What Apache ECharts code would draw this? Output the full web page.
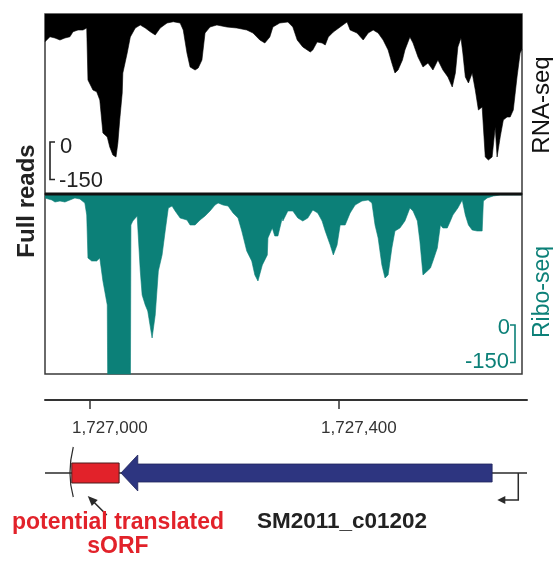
<!DOCTYPE html>
<html><head><meta charset="utf-8">
<script src="https://cdn.jsdelivr.net/npm/echarts@6/dist/echarts.min.js"></script>
<style>html,body{margin:0;padding:0;background:#fff}#c{width:553px;height:561px}</style>
</head><body><div id="c"></div>
<script>
// ---- data (genomic positions in bp, read depth) ----
const rnaPos = [1726928,1726931,1726936,1726944,1726952,1726960,1726968,1726973,1726981,1726989,
1726995,1726997,1727000,1727005,1727011,1727016,1727021,1727028,1727032,1727037,
1727042,1727045,1727048,1727052,1727053,1727060,1727065,1727073,1727081,1727089,
1727097,1727105,1727113,1727124,1727134,1727145,1727150,1727156,1727161,1727169,
1727174,1727180,1727185,1727193,1727204,1727220,1727236,1727252,1727262,1727273,
1727281,1727289,1727294,1727305,1727318,1727326,1727333,1727342,1727354,1727358,
1727365,1727373,1727378,1727383,1727391,1727402,1727413,1727418,1727429,1727439,
1727447,1727455,1727463,1727471,1727479,1727485,1727490,1727495,1727502,1727506,
1727514,1727519,1727527,1727535,1727543,1727551,1727559,1727567,1727575,1727582,
1727587,1727591,1727596,1727599,1727603,1727608,1727614,1727619,1727624,1727630,
1727635,1727640,1727646,1727651,1727654,1727659,1727664,1727670,1727675,1727680,
1727686,1727691,1727694];
const rnaDepth = [111,111,91,96,104,96,91,71,64,64,
56,264,271,304,311,344,476,492,532,564,
572,516,424,316,236,156,92,56,44,56,
71,84,56,36,31,36,64,156,212,224,
216,184,76,52,44,52,56,64,76,104,
116,92,52,36,32,52,104,132,152,144,
112,116,124,92,72,52,32,64,76,104,
76,64,76,104,144,196,236,224,184,144,
92,116,172,212,196,224,184,224,252,292,
236,132,96,156,252,276,236,304,384,372,
572,584,572,452,572,492,424,412,412,384,
252,156,140];
const riboPos = [1726928,1726931,1726939,1726944,1726952,1726960,1726968,1726976,1726984,1726992,
1726995,1726997,1727003,1727011,1727016,1727021,1727028,1727029,1727065,1727066,
1727069,1727076,1727077,1727081,1727084,1727089,1727093,1727100,1727105,1727110,
1727116,1727121,1727126,1727132,1727137,1727145,1727156,1727161,1727169,1727177,
1727185,1727193,1727201,1727206,1727214,1727222,1727230,1727238,1727244,1727252,
1727260,1727265,1727270,1727277,1727285,1727286,1727293,1727297,1727302,1727309,
1727310,1727318,1727326,1727334,1727342,1727350,1727358,1727366,1727373,1727378,
1727386,1727391,1727397,1727402,1727410,1727418,1727426,1727437,1727447,1727453,
1727458,1727463,1727469,1727474,1727479,1727485,1727490,1727498,1727506,1727514,
1727519,1727526,1727530,1727535,1727542,1727547,1727551,1727558,1727563,1727567,
1727574,1727579,1727583,1727591,1727598,1727603,1727608,1727614,1727622,1727630,
1727632,1727638,1727648,1727659,1727680,1727694];
const riboDepth = [16,16,24,32,28,32,24,16,20,36,
84,256,268,268,256,348,444,900,900,124,
108,88,84,308,404,444,468,576,484,308,
244,148,56,48,68,96,104,124,124,104,
88,68,44,36,44,48,76,96,148,228,
268,324,348,284,244,176,136,168,168,96,
108,68,68,96,108,96,64,76,108,148,
204,244,204,124,124,76,44,28,24,36,
124,176,284,336,324,216,148,136,108,56,
68,108,188,324,308,296,268,216,124,136,
136,108,84,56,24,84,124,144,148,148,
28,16,8,4,4,4];
const tickValues = [1727000, 1727400];
const viewStart = 1726928, viewEnd = 1727694, axisEnd = 1727702;
const depthMax = 720;
const scaleReads = 150;
const geneLine = [1726928, 1727702];
const sorf = [1726971, 1727047];
const cds = [1727050, 1727646];      // minus strand: arrow tip at cds[0]
const cdsHeadBase = 1727077;
const tss = 1727688;
const geneName = 'SM2011_c01202';
const sorfLabel = ['potential translated', 'sORF'];
const trackNames = ['RNA-seq', 'Ribo-seq'];
const yTitle = 'Full reads';

const TEAL = '#0c8078';
const FONT = '"Liberation Sans", Arial, Helvetica, sans-serif';

const chart = echarts.init(document.getElementById('c'), null, {renderer: 'canvas'});

function geneRender(params, api) {
  const X = v => api.coord([v, 0])[0];
  const yc = api.coord([viewStart, 0])[1];
  const s0 = X(sorf[0]), s1 = X(sorf[1]);
  const tip = X(cds[0]), hb = X(cdsHeadBase), ce = X(cds[1]);
  const t = X(tss);
  return {
    type: 'group',
    children: [
      {type: 'line', shape: {x1: X(geneLine[0]), y1: yc, x2: X(geneLine[1]), y2: yc}, style: {stroke: '#2a2a2a', lineWidth: 1.5}},
      {type: 'bezierCurve', shape: {x1: s0 + 1.5, y1: yc - 26, cpx1: s0 - 3, cpy1: yc - 8, x2: s0 + 1.5, y2: yc + 24, cpx2: s0 - 3, cpy2: yc + 8}, style: {stroke: '#2a2a2a', lineWidth: 1.2, fill: null}},
      {type: 'rect', shape: {x: s0, y: yc - 10, width: s1 - s0, height: 20}, style: {fill: '#e2222a', stroke: '#4a1c1c', lineWidth: 1}},
      {type: 'polygon', shape: {points: [[tip, yc], [hb, yc - 18], [hb, yc - 9], [ce, yc - 9], [ce, yc + 9], [hb, yc + 9], [hb, yc + 18]]}, style: {fill: '#2d3580', stroke: '#20245a', lineWidth: 0.8}},
      {type: 'polyline', shape: {points: [[t, yc], [t, yc + 27], [t - 14, yc + 27]]}, style: {stroke: '#2a2a2a', lineWidth: 1.5, fill: null}},
      {type: 'polygon', shape: {points: [[t - 21, yc + 27], [t - 13, yc + 23], [t - 13, yc + 31]]}, style: {fill: '#2a2a2a'}},
      {type: 'line', shape: {x1: s0 + 35, y1: yc + 42, x2: s0 + 22, y2: yc + 29}, style: {stroke: '#2a2a2a', lineWidth: 1.6}},
      {type: 'polygon', shape: {points: [[s0 + 16, yc + 23], [s0 + 26, yc + 27], [s0 + 20, yc + 33]]}, style: {fill: '#2a2a2a'}}
    ]
  };
}

const option = {
  animation: false,
  backgroundColor: '#fff',
  grid: [
    {left: 45, top: 14, width: 477, height: 180, show: true, borderColor: '#3a3a3a', borderWidth: 1.5, backgroundColor: 'transparent'},
    {left: 45, top: 194, width: 477, height: 180, show: true, borderColor: '#3a3a3a', borderWidth: 1.5, backgroundColor: 'transparent'},
    {left: 45, top: 399, width: 482, height: 1},
    {left: 45, top: 440, width: 482, height: 66}
  ],
  xAxis: [
    {type: 'value', gridIndex: 0, min: viewStart, max: viewEnd, show: false},
    {type: 'value', gridIndex: 1, min: viewStart, max: viewEnd, show: false},
    {type: 'value', gridIndex: 2, min: viewStart, max: axisEnd, position: 'bottom',
      axisLine: {show: true, lineStyle: {color: '#333', width: 2}},
      axisTick: {show: true, customValues: tickValues, length: 9, lineStyle: {color: '#333', width: 1.5}},
      axisLabel: {show: true, customValues: tickValues, formatter: v => Number(v).toLocaleString('en-US'),
        fontSize: 17, color: '#333', fontFamily: FONT, margin: 20, padding: [0, 0, 0, 40]},
      splitLine: {show: false}},
    {type: 'value', gridIndex: 3, min: viewStart, max: axisEnd, show: false}
  ],
  yAxis: [
    {type: 'value', gridIndex: 0, min: -depthMax, max: 0, show: false},
    {type: 'value', gridIndex: 1, min: -depthMax, max: 0, show: false},
    {type: 'value', gridIndex: 2, min: 0, max: 1, show: false},
    {type: 'value', gridIndex: 3, min: -1, max: 1, show: false}
  ],
  series: [
    {name: trackNames[0], type: 'line', xAxisIndex: 0, yAxisIndex: 0, silent: true, showSymbol: false, clip: true,
      data: rnaPos.map((p, i) => [p, -rnaDepth[i]]),
      lineStyle: {color: '#000', width: 0.6}, areaStyle: {color: '#000', opacity: 1, origin: 'end'}},
    {name: trackNames[1], type: 'line', xAxisIndex: 1, yAxisIndex: 1, silent: true, showSymbol: false, clip: true,
      data: riboPos.map((p, i) => [p, -riboDepth[i]]),
      lineStyle: {color: TEAL, width: 0.6}, areaStyle: {color: TEAL, opacity: 1, origin: 'end'}},
    {type: 'custom', xAxisIndex: 3, yAxisIndex: 3, silent: true, data: [[viewStart, 0]], renderItem: geneRender, clip: false}
  ]
};
chart.setOption(option);

// scale bar length from the y scale
const y0 = chart.convertToPixel({yAxisIndex: 0}, 0);
const yS = chart.convertToPixel({yAxisIndex: 0}, -scaleReads);
const L = yS - y0;

chart.setOption({
  graphic: [
    {type: 'line', z: 100, shape: {x1: 45, y1: 194, x2: 522, y2: 194}, style: {stroke: '#111', lineWidth: 3}},
    // RNA scale bar
    {type: 'polyline', z: 100, shape: {points: [[55, 142], [50, 142], [50, 142 + L], [55, 142 + L]]}, style: {stroke: '#222', lineWidth: 1.6, fill: null}},
    {type: 'text', z: 100, x: 60, y: 147, style: {text: '0', fontSize: 22, fontFamily: FONT, fill: '#222', textAlign: 'left', textVerticalAlign: 'middle'}},
    {type: 'text', z: 100, x: 59, y: 181, style: {text: '-' + scaleReads, fontSize: 22, fontFamily: FONT, fill: '#222', textAlign: 'left', textVerticalAlign: 'middle'}},
    // Ribo scale bar
    {type: 'polyline', z: 100, shape: {points: [[510, 325], [515, 325], [515, 325 + L], [510, 325 + L]]}, style: {stroke: TEAL, lineWidth: 1.6, fill: null}},
    {type: 'text', z: 100, x: 510, y: 328, style: {text: '0', fontSize: 22, fontFamily: FONT, fill: TEAL, textAlign: 'right', textVerticalAlign: 'middle'}},
    {type: 'text', z: 100, x: 509, y: 362, style: {text: '-' + scaleReads, fontSize: 22, fontFamily: FONT, fill: TEAL, textAlign: 'right', textVerticalAlign: 'middle'}},
    // titles
    {type: 'text', z: 100, x: 27, y: 201, rotation: Math.PI / 2, style: {text: yTitle, fontSize: 24, fontWeight: 'bold', fontFamily: FONT, fill: '#222', textAlign: 'center', textVerticalAlign: 'middle'}},
    {type: 'text', z: 100, x: 542, y: 105, rotation: Math.PI / 2, style: {text: trackNames[0], fontSize: 24, fontFamily: FONT, fill: '#111', textAlign: 'center', textVerticalAlign: 'middle'}},
    {type: 'text', z: 100, x: 543, y: 292, rotation: Math.PI / 2, style: {text: trackNames[1], fontSize: 23, fontFamily: FONT, fill: TEAL, textAlign: 'center', textVerticalAlign: 'middle'}},
    // gene labels
    {type: 'text', z: 100, x: 118, y: 523, style: {text: sorfLabel[0], fontSize: 23, fontWeight: 'bold', fontFamily: FONT, fill: '#e2222a', textAlign: 'center', textVerticalAlign: 'middle'}},
    {type: 'text', z: 100, x: 118, y: 547, style: {text: sorfLabel[1], fontSize: 23, fontWeight: 'bold', fontFamily: FONT, fill: '#e2222a', textAlign: 'center', textVerticalAlign: 'middle'}},
    {type: 'text', z: 100, x: 342, y: 522, style: {text: geneName, fontSize: 22.5, fontWeight: 'bold', fontFamily: FONT, fill: '#222', textAlign: 'center', textVerticalAlign: 'middle'}}
  ]
});
</script>
</body></html>
